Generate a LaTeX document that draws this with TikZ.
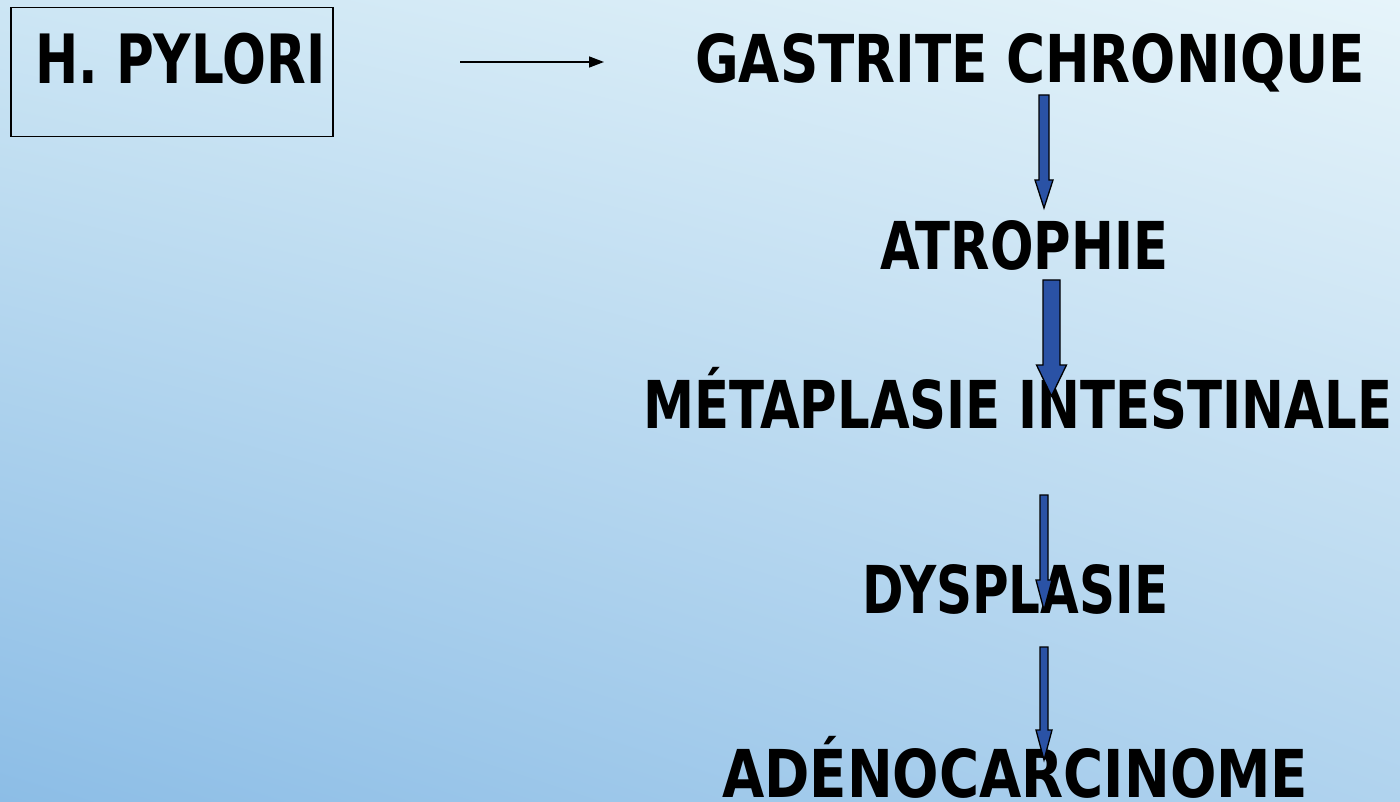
\documentclass[tikz,border=0pt]{standalone}
\usepackage{fontspec}
\setmainfont{DejaVu Sans}
\usetikzlibrary{arrows.meta,shadings}
\definecolor{bgtl}{HTML}{CDE6F4}
\definecolor{bgtr}{HTML}{E6F4FA}
\definecolor{bgbl}{HTML}{8CBDE6}
\definecolor{bgbr}{HTML}{B0D3EE}
\definecolor{arrblue}{HTML}{2A52A5}
\newlength\fitlen
\newcommand\fitw[2]{\settowidth\fitlen{#2}\pgfmathsetmacro\fitsx{#1/\fitlen}\scalebox{\fitsx}[1]{#2}}
\newcommand\blockarr[6]{% x, ytop, half shaft, half head, y head start, y tip
  \filldraw[blockarrow] (#1-#3,#2) -- (#1+#3,#2) -- (#1+#3,#5) -- (#1+#4,#5) -- (#1,#6) -- (#1-#4,#5) -- (#1-#3,#5) -- cycle;}
\tikzset{
  lbl/.style={anchor=base west, inner sep=0pt, font=\fontsize{66}{70}\selectfont\bfseries, text=black},
  blockarrow/.style={fill=arrblue, draw=black, line width=1.3pt, line join=miter},
  thin arrow/.style={draw=black, line width=1.5pt, -{Triangle[length=15pt,width=11pt]}}
}
\begin{document}
\begin{tikzpicture}[x=1pt,y=-1pt]
\useasboundingbox (0,0) rectangle (1400,802);
\shade[upper left=bgtl, upper right=bgtr, lower left=bgbl, lower right=bgbr] (0pt,0pt) rectangle (1400pt,-802pt);
% H. PYLORI box
\node[draw=black, line width=1.2pt, minimum width=322pt, minimum height=129pt, inner sep=0pt] (hpbox) at (172,72) {};
\node[lbl, font=\fontsize{68}{72}\selectfont\bfseries] (hp) at (35,84) {\fitw{290pt}{H. PYLORI}};
\coordinate (a0) at (460,62);
\coordinate (a1) at (604,62);
\draw[thin arrow] (a0) -- (a1);
% labels
\node[lbl] (gc) at (695,83) {\fitw{670pt}{GASTRITE CHRONIQUE}};
\node[lbl] (at) at (880,270) {\fitw{288pt}{ATROPHIE}};
\node[lbl] (mi) at (643,428) {\fitw{749pt}{MÉTAPLASIE INTESTINALE}};
\node[lbl] (dy) at (862,613) {\fitw{306pt}{DYSPLASIE}};
\node[lbl] (ad) at (722,797) {\fitw{586pt}{ADÉNOCARCINOME}};
% block arrows
\blockarr{1044}{95}{5}{9}{180}{208}
\blockarr{1051.5}{280}{8.5}{15}{365}{396}
\blockarr{1044}{495}{4}{8}{580}{610}
\blockarr{1044}{647}{4}{8}{730}{760}
\end{tikzpicture}
\end{document}
